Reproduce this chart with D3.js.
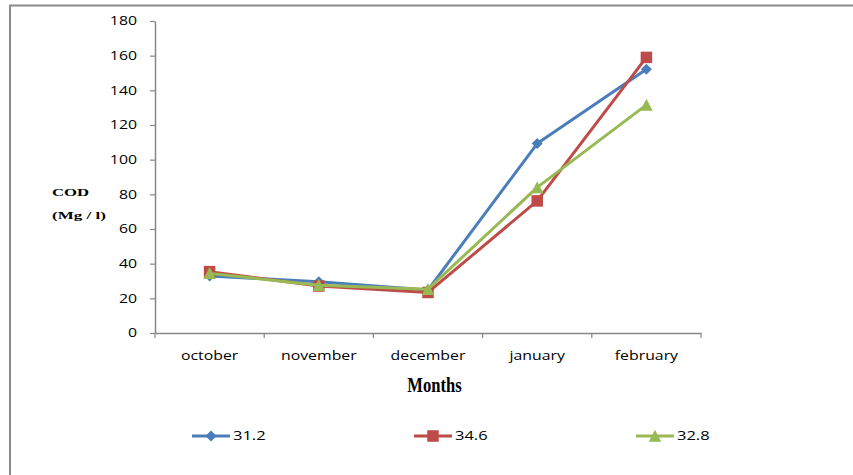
<!DOCTYPE html>
<html>
<head>
<meta charset="utf-8">
<script src="https://cdn.jsdelivr.net/npm/d3@7"></script>
<style>
  body { margin: 0; background: #fff; }
  svg { display: block; }
</style>
</head>
<body>
<svg id="chart" width="853" height="475"></svg>
<script>
// Monthly COD readings (Mg / l) for three sampling series
const months = ["october", "november", "december", "january", "february"];
const seriesNames = ["31.2", "34.6", "32.8"];
const series312 = [32.9, 29.5, 24.8, 109.3, 152.2];
const series346 = [35.4, 27.1, 23.4, 76.2, 159.0];
const series328 = [34.4, 27.6, 25.3, 84.0, 131.6];
const yTickValues = [0, 20, 40, 60, 80, 100, 120, 140, 160, 180];

const seriesValues = [series312, series346, series328];
const colors = ["#4A7EBB", "#BE4B48", "#98B954"];

const svg = d3.select("#chart");
const W = 853, H = 475;
const plot = { left: 155, right: 701, top: 21, bottom: 333 };
const SX = 1.32; // horizontal stretch of label text

// outer frame (left and top edges visible)
svg.append("path")
  .attr("d", `M10,${H + 5} V5.5 H${W + 5}`)
  .attr("fill", "none")
  .attr("stroke", "#8a8a8a")
  .attr("stroke-width", 2);

const x = d3.scaleBand().domain(months).range([plot.left, plot.right]).padding(0);
const y = d3.scaleLinear().domain([0, 180]).range([plot.bottom, plot.top]);
const cx = m => x(m) + x.bandwidth() / 2;

function stretch(sel, sx) {
  sel.each(function () {
    const t = d3.select(this);
    const x0 = +t.attr("x") || 0;
    t.attr("x", x0 / sx).attr("transform", `scale(${sx},1)`);
  });
}

const axisColor = "#868686";
const labelFont = "'Open Sans', sans-serif";

// y axis
const yAxis = svg.append("g")
  .attr("transform", `translate(${plot.left},0)`)
  .call(d3.axisLeft(y).tickValues(yTickValues).tickSize(5).tickSizeOuter(0).tickPadding(13));
yAxis.select(".domain").attr("stroke", axisColor).attr("stroke-width", 1.5);
yAxis.selectAll(".tick line").attr("stroke", axisColor).attr("stroke-width", 1.2);
yAxis.selectAll("text")
  .attr("fill", "#000")
  .style("font-family", labelFont)
  .style("font-size", "12px")
  .call(stretch, SX);

// x axis: labels centred in each band, tick marks at band edges
const xAxis = svg.append("g")
  .attr("transform", `translate(0,${plot.bottom})`)
  .call(d3.axisBottom(x).tickSize(0).tickSizeOuter(0).tickPadding(18.5));
xAxis.select(".domain").attr("stroke", axisColor).attr("stroke-width", 1.5);
xAxis.selectAll("text")
  .attr("fill", "#000")
  .style("font-family", labelFont)
  .style("font-size", "12px")
  .call(stretch, SX);

const edges = months.map(m => x(m)).concat([x(months[months.length - 1]) + x.bandwidth()]);
svg.append("g").selectAll("line")
  .data(edges)
  .join("line")
  .attr("x1", d => d).attr("x2", d => d)
  .attr("y1", plot.bottom).attr("y2", plot.bottom + 5)
  .attr("stroke", axisColor)
  .attr("stroke-width", 1.2);

// marker shapes
function markerPath(i, s) {
  if (i === 0) { // diamond
    const r = s * 0.5;
    return `M0,${-r} L${r},0 L0,${r} L${-r},0 Z`;
  }
  if (i === 1) { // square
    const r = s * 0.5;
    return `M${-r},${-r} H${r} V${r} H${-r} Z`;
  }
  const r = s * 0.5; // triangle
  return `M0,${-r - 0.5} L${r + 0.5},${r} L${-r - 0.5},${r} Z`;
}
const markerSizes = [11, 11.5, 11.5];

const line = d3.line().x((d, i) => cx(months[i])).y(d => y(d));

seriesValues.forEach((vals, i) => {
  const g = svg.append("g");
  g.append("path")
    .datum(vals)
    .attr("d", line)
    .attr("fill", "none")
    .attr("stroke", colors[i])
    .attr("stroke-width", 3)
    .attr("stroke-linejoin", "round");
  g.selectAll("path.mk")
    .data(vals)
    .join("path")
    .attr("class", "mk")
    .attr("transform", (d, j) => `translate(${cx(months[j])},${y(d)})`)
    .attr("d", markerPath(i, markerSizes[i]))
    .attr("fill", colors[i]);
});

// axis titles
const yTitle = svg.append("g").attr("font-family", "'Liberation Serif', 'Times New Roman', serif")
  .attr("font-weight", "bold").attr("font-size", "11px").attr("fill", "#000");
yTitle.append("text").attr("x", 52).attr("y", 196).text("COD").call(stretch, 1.52);
yTitle.append("text").attr("x", 52).attr("y", 219.5).text("(Mg / l)").call(stretch, 1.55);

svg.append("text")
  .attr("x", 434.5).attr("y", 392)
  .attr("text-anchor", "middle")
  .attr("font-family", "'Liberation Serif', 'Times New Roman', serif")
  .attr("font-weight", "bold")
  .attr("font-size", "21px")
  .attr("fill", "#000")
  .text("Months")
  .call(stretch, 0.79);

// legend
const legendY = 436;
const legendX0 = 192, legendStep = 222;
seriesNames.forEach((name, i) => {
  const lx = legendX0 + i * legendStep;
  const g = svg.append("g");
  g.append("line")
    .attr("x1", lx).attr("x2", lx + 38)
    .attr("y1", legendY).attr("y2", legendY)
    .attr("stroke", colors[i]).attr("stroke-width", 3);
  g.append("path")
    .attr("transform", `translate(${lx + 19},${legendY})`)
    .attr("d", markerPath(i, markerSizes[i]))
    .attr("fill", colors[i]);
  g.append("text")
    .attr("x", lx + 41).attr("y", legendY)
    .attr("dy", "0.36em")
    .attr("font-family", labelFont)
    .attr("font-size", "12.5px")
    .attr("fill", "#000")
    .text(name)
    .call(stretch, SX);
});
</script>
</body>
</html>
